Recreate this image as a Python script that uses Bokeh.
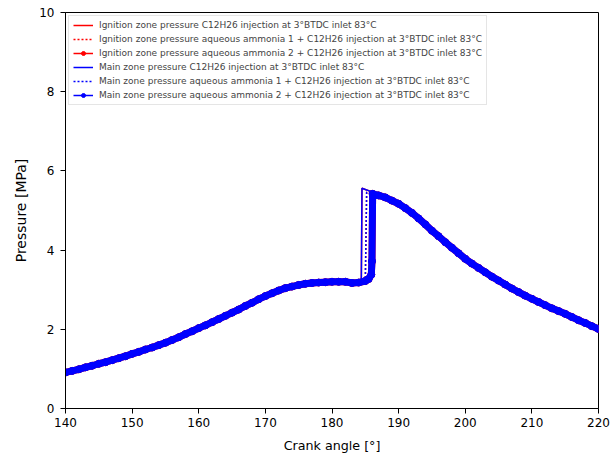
from bokeh.plotting import figure
from bokeh.models import Range1d, FixedTicker, Legend, LegendItem, ColumnDataSource
from bokeh.embed import file_html
from bokeh.resources import INLINE

# ---- data ----
ANGLE_PRE = list(range(140, 185))
P_PRE = [0.91, 0.95, 0.99, 1.04, 1.08, 1.13, 1.17, 1.22, 1.27, 1.32,
         1.38, 1.43, 1.49, 1.54, 1.60, 1.66, 1.73, 1.80, 1.88, 1.95,
         2.03, 2.10, 2.18, 2.26, 2.34, 2.42, 2.50, 2.59, 2.67, 2.76,
         2.84, 2.91, 2.98, 3.04, 3.08, 3.12, 3.15, 3.17, 3.18, 3.19,
         3.20, 3.20, 3.20, 3.17, 3.18]
ANGLE_POST = list(range(187, 221))
P_POST = [5.38, 5.33, 5.25, 5.17, 5.06, 4.94, 4.80, 4.65, 4.49, 4.35,
          4.20, 4.06, 3.92, 3.78, 3.66, 3.55, 3.44, 3.33, 3.23, 3.13,
          3.03, 2.94, 2.85, 2.77, 2.69, 2.61, 2.53, 2.46, 2.39, 2.31,
          2.23, 2.16, 2.08, 2.01]

# combustion jump section of each case
ANGLE_JUMP_C12 = [184.4, 184.5, 185.0, 186.0]
P_JUMP_C12 = [3.20, 5.56, 5.53, 5.47]
ANGLE_JUMP_AQ1 = [185.0, 185.2, 186.0]
P_JUMP_AQ1 = [3.22, 5.46, 5.44]
ANGLE_JUMP_AQ2 = [185.0, 185.5, 185.9, 186.0, 186.1]
P_JUMP_AQ2 = [3.22, 3.27, 3.38, 3.72, 5.42]

LABELS = [
    "Ignition zone pressure C12H26 injection at 3°BTDC inlet 83°C",
    "Ignition zone pressure aqueous ammonia 1 + C12H26 injection at 3°BTDC inlet 83°C",
    "Ignition zone pressure aqueous ammonia 2 + C12H26 injection at 3°BTDC inlet 83°C",
    "Main zone pressure C12H26 injection at 3°BTDC inlet 83°C",
    "Main zone pressure aqueous ammonia 1 + C12H26 injection at 3°BTDC inlet 83°C",
    "Main zone pressure aqueous ammonia 2 + C12H26 injection at 3°BTDC inlet 83°C",
]
X_TICKS = [140, 150, 160, 170, 180, 190, 200, 210, 220]
Y_TICKS = [0, 2, 4, 6, 8, 10]

FONT = "DejaVu Sans"

def src(jx, jy):
    return ColumnDataSource(dict(x=ANGLE_PRE + jx + ANGLE_POST,
                                 y=P_PRE + jy + P_POST))

p = figure(width=611, height=456, output_backend="svg", toolbar_location=None,
           x_range=Range1d(140, 220), y_range=Range1d(0, 10),
           min_border_left=65, min_border_right=13, min_border_top=12,
           min_border_bottom=48)
p.xgrid.visible = False
p.ygrid.visible = False
p.outline_line_color = "black"
p.outline_line_width = 1
p.background_fill_color = "white"
p.border_fill_color = "white"

items = []
for zone, color in (("ign", "red"), ("main", "blue")):
    off = 0 if zone == "ign" else 3
    r1 = p.line("x", "y", source=src(ANGLE_JUMP_C12, P_JUMP_C12), color=color, line_width=1.5)
    r2 = p.line("x", "y", source=src(ANGLE_JUMP_AQ1, P_JUMP_AQ1), color=color, line_width=1.5,
                line_dash="2 2")
    s3 = src(ANGLE_JUMP_AQ2, P_JUMP_AQ2)
    # dense markers of the reference merge into a continuous band
    p.line("x", "y", source=s3, color=color, line_width=7,
           line_join="round", line_cap="round")
    r3 = p.line("x", "y", source=s3, color=color, line_width=1.5)
    r3m = p.scatter("x", "y", source=s3, color=color, size=7, marker="circle")
    items.append(LegendItem(label=LABELS[off], renderers=[r1]))
    items.append(LegendItem(label=LABELS[off + 1], renderers=[r2]))
    items.append(LegendItem(label=LABELS[off + 2], renderers=[r3, r3m]))

legend = Legend(items=items, location="top_left", margin=3, padding=4, spacing=4,
                label_text_font=FONT, label_text_font_size="9px",
                label_height=10, glyph_height=10, glyph_width=20, label_standoff=6,
                border_line_color="#cccccc", border_line_width=1,
                background_fill_color="white", background_fill_alpha=0.8)
p.add_layout(legend)

for ax in (p.xaxis[0], p.yaxis[0]):
    ax.major_label_text_font = FONT
    ax.major_label_text_font_size = "12px"
    ax.major_label_text_color = "black"
    ax.axis_label_text_font = FONT
    ax.axis_label_text_font_style = "normal"
    ax.axis_label_text_color = "black"
    ax.axis_line_color = "black"
    ax.major_tick_line_color = "black"
    ax.major_tick_out = 5
    ax.major_tick_in = 0
    ax.minor_tick_line_color = None

p.xaxis.axis_label_text_font_size = "12.7px"
p.yaxis.axis_label_text_font_size = "14px"
p.xaxis.ticker = FixedTicker(ticks=X_TICKS)
p.yaxis.ticker = FixedTicker(ticks=Y_TICKS)
p.xaxis.axis_label = "Crank angle [°]"
p.yaxis.axis_label = "Pressure [MPa]"
p.xaxis.major_label_standoff = 4
p.yaxis.major_label_standoff = 6
p.xaxis.axis_label_standoff = 8
p.yaxis.axis_label_standoff = 7

open("out.html", "w").write(file_html(p, INLINE))
